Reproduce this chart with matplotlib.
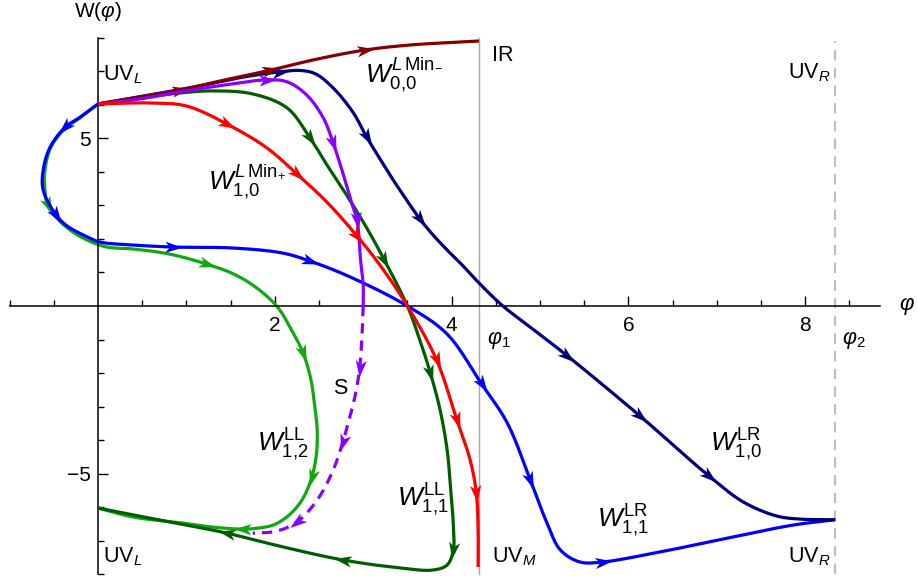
import numpy as np
import matplotlib
matplotlib.use("Agg")
import matplotlib.pyplot as plt
from matplotlib.path import Path
from matplotlib.markers import MarkerStyle
from matplotlib.transforms import Affine2D

plt.rcParams['font.family'] = ['Liberation Sans', 'DejaVu Sans']
plt.rcParams['mathtext.fontset'] = 'custom'
plt.rcParams['mathtext.rm'] = 'Liberation Sans'
plt.rcParams['mathtext.it'] = 'Liberation Sans:italic'
plt.rcParams['mathtext.bf'] = 'Liberation Sans:bold'

# special field values
PHI1 = 4.31
PHI2 = 8.34

# flows (phi, W); *_arrows = vertex index carrying an arrowhead
maroon_x = [0, 0.475, 0.93, 1.44, 1.95, 2.48, 3.02, 3.53, 4.10, 4.31]
maroon_y = [6.03, 6.24, 6.45, 6.75, 7.04, 7.37, 7.64, 7.79, 7.88, 7.91]
maroon_arrows = [2, 4, 6]

navy_x = [0, 0.59, 1.15, 1.66, 2.06, 2.29, 2.46, 2.66, 2.89, 3.04, 3.19, 3.34,
          3.50, 3.64, 3.79, 3.95, 4.10, 4.32, 4.58, 4.89, 5.31, 6.13, 6.91, 7.30,
          7.68, 7.94, 8.34]
navy_y = [6.03, 6.30, 6.57, 6.84, 6.99, 7.03, 6.93, 6.51, 5.76, 5.04, 4.39, 3.76,
          3.13, 2.60, 2.12, 1.67, 1.28, 0.66, 0.0, -0.63, -1.49, -3.28, -5.07, -5.85,
          -6.27, -6.36, -6.38]
navy_arrows = [4, 9, 13, 20, 21, 22]

purple_x = [0, 0.475, 0.93, 1.44, 1.91, 2.14, 2.36, 2.55, 2.66, 2.77, 2.87, 2.93,
            2.97, 3.0, 3.0]
purple_y = [6.03, 6.18, 6.39, 6.60, 6.75, 6.69, 6.30, 5.61, 4.87, 3.97, 3.07, 2.57,
            1.37, 0.63, 0.0]
purple_arrows = [4, 8, 11]

sep_x = [3.0, 2.99, 2.96, 2.91, 2.84, 2.77, 2.66, 2.48, 2.25, 2.02, 1.75]
sep_y = [0.0, -0.72, -1.85, -2.66, -3.40, -4.06, -4.90, -5.79, -6.45, -6.72, -6.78]
sep_arrows = [2, 5, 8]

dkgreen_x = [0, 0.475, 0.93, 1.30, 1.75, 2.14, 2.40, 2.59, 2.82, 3.04, 3.24, 3.50,
             3.64, 3.76, 3.87, 3.95, 3.99, 4.02, 4.02, 3.95, 3.79, 3.42, 2.77, 2.09,
             1.46, 0.70, 0]
dkgreen_y = [6.03, 6.21, 6.36, 6.42, 6.33, 5.91, 5.01, 4.21, 3.28, 2.33, 1.37, 0.0,
             -1.01, -2.0, -3.10, -4.30, -5.49, -6.54, -7.28, -7.73, -7.88, -7.82,
             -7.58, -7.19, -6.78, -6.39, -6.03]
dkgreen_arrows = [6, 10, 13, 18, 22, 24]

red_x = [0, 0.59, 1.0, 1.46, 1.91, 2.25, 2.59, 2.93, 3.19, 3.50, 3.83, 4.06, 4.21,
         4.28, 4.30, 4.30]
red_y = [6.03, 6.06, 5.97, 5.43, 4.72, 3.94, 3.10, 2.09, 1.22, 0.0, -1.61, -3.40,
         -4.60, -5.58, -6.69, -7.79]
red_arrows = [3, 5, 7, 10, 11, 13]

blue_x = [0, -0.20, -0.37, -0.54, -0.62, -0.62, -0.475, -0.35, -0.12, 0.02, 0.40,
          0.85, 1.53, 2.09, 2.40, 2.85, 3.50, 3.95, 4.34, 4.63, 4.89, 5.08, 5.23,
          5.45, 5.71, 6.36, 7.12, 7.86, 8.34]
blue_y = [6.03, 5.64, 5.34, 4.75, 4.06, 3.46, 2.72, 2.39, 2.06, 1.91, 1.82, 1.76,
          1.73, 1.58, 1.34, 0.87, 0.0, -0.84, -2.33, -3.49, -5.19, -6.48, -7.28,
          -7.64, -7.64, -7.34, -6.93, -6.54, -6.38]
blue_arrows = [2, 6, 11, 14, 18, 20, 24]

ltgreen_x = [0, -0.20, -0.37, -0.53, -0.60, -0.60, -0.57, -0.44, -0.28, -0.10, 0.10,
             0.40, 0.81, 1.23, 1.53, 1.78, 2.03, 2.19, 2.32, 2.41, 2.45, 2.48, 2.47,
             2.42, 2.34, 2.25, 2.12, 1.98, 1.81, 1.64, 1.30, 0.96, 0.40, 0]
ltgreen_y = [6.03, 5.62, 5.30, 4.75, 4.06, 3.46, 3.0, 2.55, 2.20, 1.94, 1.76, 1.70,
             1.55, 1.25, 0.96, 0.57, -0.03, -0.72, -1.40, -2.21, -2.96, -3.70, -4.45,
             -5.10, -5.64, -6.00, -6.33, -6.54, -6.63, -6.66, -6.60, -6.48, -6.30,
             -6.03]
ltgreen_arrows = [6, 13, 18, 23, 29]

x_major = [2, 4, 6, 8]
y_major = [-5, 5]

fig = plt.figure(figsize=(9.17, 5.81), dpi=100)
ax = fig.add_axes([9.6 / 917, 5.3 / 581, 870.7 / 917, 539.4 / 581])
ax.set_xlim(-1.0, 8.85)
ax.set_ylim(-8.05, 8.05)

for s in ['top', 'right']:
    ax.spines[s].set_visible(False)
ax.spines['left'].set_position(('data', 0))
ax.spines['bottom'].set_position(('data', 0))
ax.spines['left'].set_bounds(-8, 8)
ax.spines['bottom'].set_bounds(-1, 8.85)
for s in ['left', 'bottom']:
    ax.spines[s].set_linewidth(1.1)

ax.set_xticks(x_major)
ax.set_xticklabels([str(v) for v in x_major])
ax.set_xticks([v for v in np.arange(-1, 8.6, 0.5) if v not in x_major and v != 0], minor=True)
ax.set_yticks(y_major)
ax.set_yticklabels(['\u22125', '5'])
ax.set_yticks([v for v in range(-8, 9) if v not in y_major and v != 0], minor=True)
ax.tick_params(which='both', direction='in', width=1.0, labelsize=15)
ax.tick_params(axis='x', which='major', length=7, pad=7)
ax.tick_params(axis='y', which='major', length=7.5, pad=5)
ax.tick_params(which='minor', length=4.5)

# reference lines at phi1 and phi2
ax.plot([PHI1, PHI1], [-8, 8], color='#a8a8a8', lw=1.0, zorder=1)
ax.plot([PHI2, PHI2], [-8, 7.9], color='#bdbdbd', lw=1.5, ls=(0, (5, 3.5)), zorder=1)

fig.canvas.draw()
o = ax.transData.transform((0, 0))
u = ax.transData.transform((1, 1))
sx, sy = u - o


def smooth(xs, ys, n=14):
    # centripetal catmull-rom through the read points (pixel space)
    P = np.column_stack([np.array(xs) * sx, np.array(ys) * sy])
    ext = np.vstack([2 * P[0] - P[1], P, 2 * P[-1] - P[-2]])
    out = []
    for i in range(1, len(ext) - 2):
        p0, p1, p2, p3 = ext[i - 1], ext[i], ext[i + 1], ext[i + 2]
        t0 = 0.0
        t1 = t0 + np.linalg.norm(p1 - p0) ** 0.5
        t2 = t1 + np.linalg.norm(p2 - p1) ** 0.5
        t3 = t2 + np.linalg.norm(p3 - p2) ** 0.5
        t = np.linspace(t1, t2, n, endpoint=False)[:, None]
        a1 = (t1 - t) / (t1 - t0) * p0 + (t - t0) / (t1 - t0) * p1
        a2 = (t2 - t) / (t2 - t1) * p1 + (t - t1) / (t2 - t1) * p2
        a3 = (t3 - t) / (t3 - t2) * p2 + (t - t2) / (t3 - t2) * p3
        b1 = (t2 - t) / (t2 - t0) * a1 + (t - t0) / (t2 - t0) * a2
        b2 = (t3 - t) / (t3 - t1) * a2 + (t - t1) / (t3 - t1) * a3
        out.append((t2 - t) / (t2 - t1) * b1 + (t - t1) / (t2 - t1) * b2)
    out.append(P[-1:])
    C = np.vstack(out)
    return C[:, 0] / sx, C[:, 1] / sy


head = Path([(1, 0), (-0.9, 0.62), (-0.4, 0), (-0.9, -0.62), (1, 0)],
            [Path.MOVETO, Path.LINETO, Path.LINETO, Path.LINETO, Path.CLOSEPOLY])


def flow(xs, ys, arrows, color, ls='-', z=2):
    cx, cy = smooth(xs, ys)
    ax.plot(cx, cy, color=color, lw=2.3, ls=ls, zorder=z, solid_capstyle='butt',
            dash_capstyle='butt')
    n = len(xs)
    for i in arrows:
        a, b = max(i - 1, 0), min(i + 1, n - 1)
        dx = (xs[b] - xs[a]) * sx
        dy = (ys[b] - ys[a]) * sy
        ang = np.degrees(np.arctan2(dy, dx))
        m = MarkerStyle(head, transform=Affine2D().rotate_deg(ang))
        ax.plot([xs[i]], [ys[i]], marker=m, color=color, markersize=13,
                markeredgewidth=0, ls='none', zorder=z + 0.1)


flow(ltgreen_x, ltgreen_y, ltgreen_arrows, '#12a812', z=2)
flow(blue_x, blue_y, blue_arrows, '#0000ff', z=3)
flow(dkgreen_x, dkgreen_y, dkgreen_arrows, '#005e00', z=4)
flow(navy_x, navy_y, navy_arrows, '#00007f', z=5)
flow(maroon_x, maroon_y, maroon_arrows, '#850000', z=6)
flow(sep_x, sep_y, sep_arrows, '#8a00ff', ls=(0, (3.2, 2.2)), z=7)
flow(purple_x, purple_y, purple_arrows, '#8a00ff', z=7)
flow(red_x, red_y, red_arrows, '#ff0000', z=8)

# axis labels
ax.text(0, 8.78, r'W($\varphi$)', fontsize=15, ha='center', va='center', clip_on=False)
ax.text(9.15, 0, r'$\varphi$', fontsize=16, ha='center', va='center', clip_on=False)

# fixed point labels
pt = 15.5
ax.text(0.06, 6.9, r'UV$_{L}$', fontsize=pt, ha='left', va='center')
ax.text(0.06, -7.49, r'UV$_{L}$', fontsize=pt, ha='left', va='center')
ax.text(4.46, 7.49, 'IR', fontsize=pt, ha='left', va='center')
ax.text(8.29, 6.96, r'UV$_{R}$', fontsize=pt, ha='right', va='center')
ax.text(8.29, -7.49, r'UV$_{R}$', fontsize=pt, ha='right', va='center')
ax.text(4.46, -7.49, r'UV$_{M}$', fontsize=pt, ha='left', va='center')
ax.text(2.74, -2.45, 'S', fontsize=pt, ha='center', va='center')
ax.text(4.40, -1.01, r'$\varphi_1$', fontsize=pt, ha='left', va='center')
ax.text(8.42, -1.01, r'$\varphi_2$', fontsize=pt, ha='left', va='center')

# curve labels
wl = 19
ax.text(3.02, 6.9, r'$W^{L\,\mathrm{Min}_{-}}_{0{,}0}$', fontsize=wl, ha='left', va='center')
ax.text(1.24, 3.70, r'$W^{L\,\mathrm{Min}_{+}}_{1{,}0}$', fontsize=wl, ha='left', va='center')
ax.text(1.80, -4.15, r'$W^{\mathrm{LL}}_{1{,}2}$', fontsize=wl, ha='left', va='center')
ax.text(3.38, -5.79, r'$W^{\mathrm{LL}}_{1{,}1}$', fontsize=wl, ha='left', va='center')
ax.text(6.92, -4.15, r'$W^{\mathrm{LR}}_{1{,}0}$', fontsize=wl, ha='left', va='center')
ax.text(5.64, -6.42, r'$W^{\mathrm{LR}}_{1{,}1}$', fontsize=wl, ha='left', va='center')

fig.savefig('out.png', dpi=100)
